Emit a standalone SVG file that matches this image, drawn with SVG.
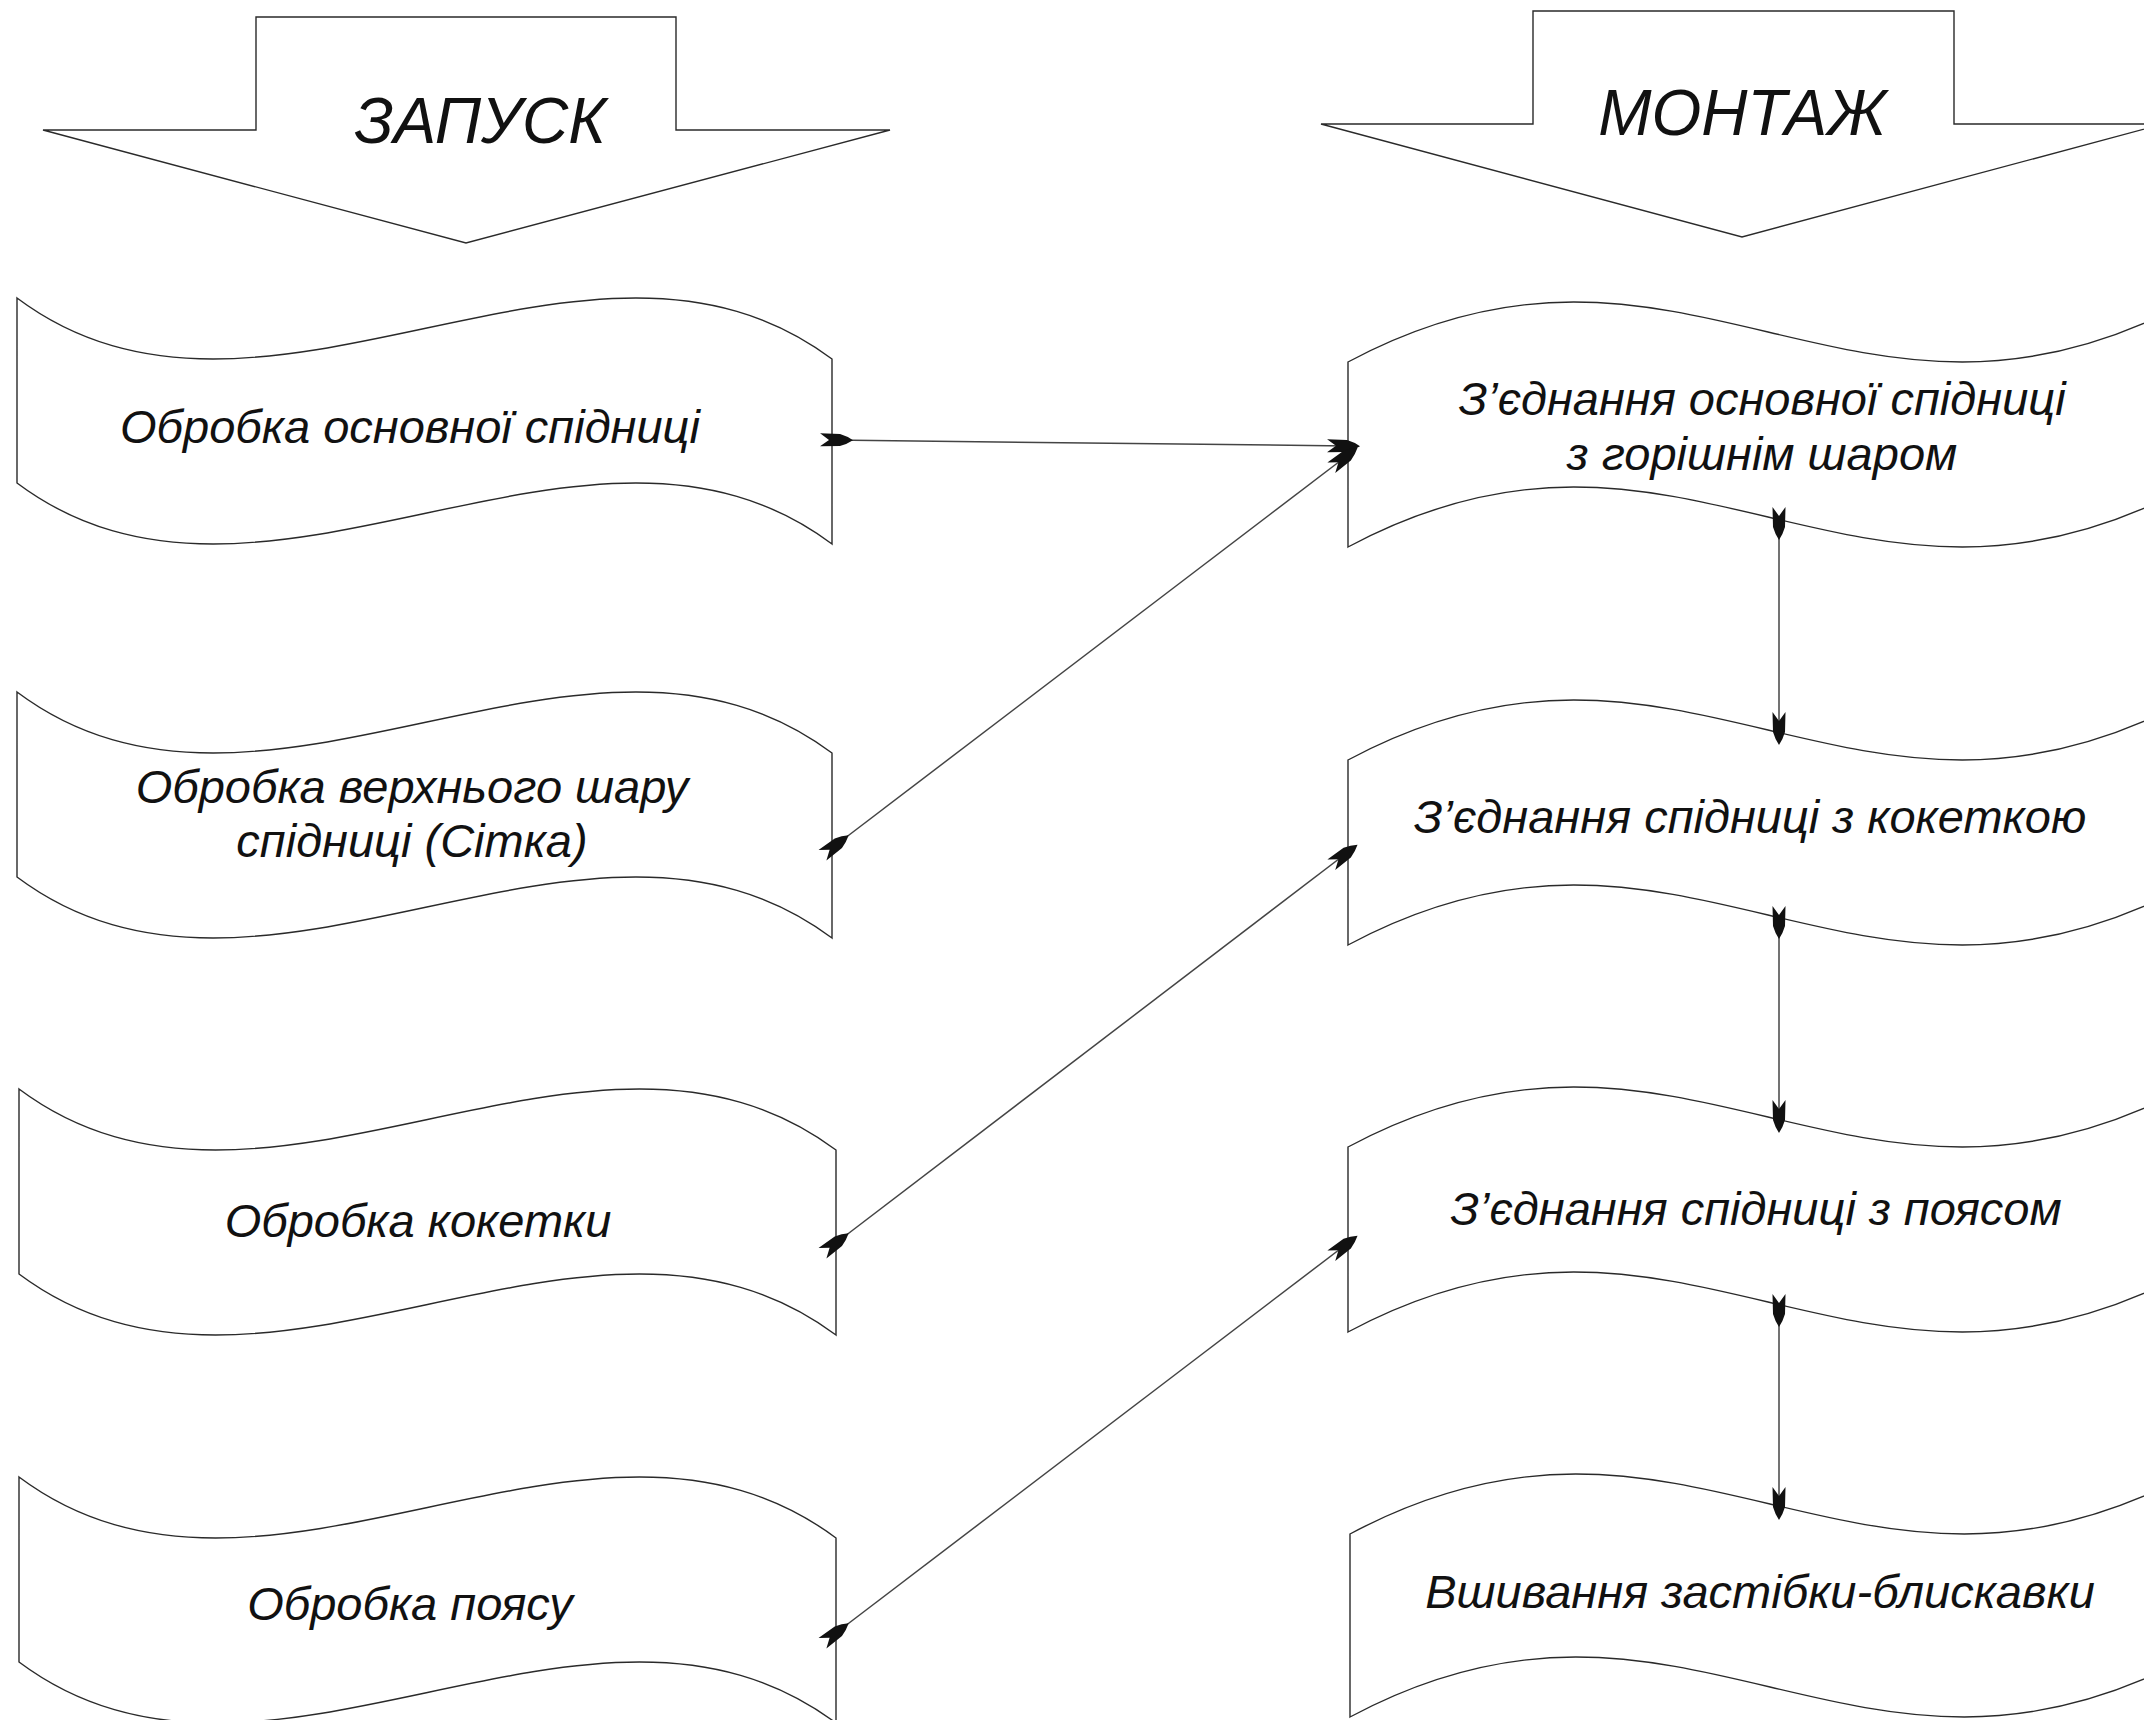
<svg xmlns="http://www.w3.org/2000/svg" width="2144" height="1720" viewBox="0 0 2144 1720">
<style>
.bg{fill:#ffffff}
.shape{fill:#ffffff;stroke:#2a2a2a;stroke-width:1.4;stroke-linejoin:miter}
.lbl{font-family:"Liberation Sans",Arial,sans-serif;font-style:italic;font-size:47px;fill:#111111;text-anchor:middle}
.hdr{font-family:"Liberation Sans",Arial,sans-serif;font-style:italic;font-size:64px;fill:#111111;text-anchor:middle}
.conn{fill:none;stroke:#444444;stroke-width:1.5}
</style>
<defs>
<marker id="mS" markerUnits="userSpaceOnUse" markerWidth="40" markerHeight="20" viewBox="0 -10 40 20" refX="12" refY="0" orient="auto">
<path d="M0,-6.5 L9,0 L0,6.5 L20,6 Q27,4 33,0 Q27,-4 20,-6 Z" fill="#111111"/>
</marker>
<marker id="mE" markerUnits="userSpaceOnUse" markerWidth="40" markerHeight="20" viewBox="0 -10 40 20" refX="21" refY="0" orient="auto">
<path d="M0,-6.5 L9,0 L0,6.5 L20,6 Q27,4 33,0 Q27,-4 20,-6 Z" fill="#111111"/>
</marker>
</defs>
<rect class="bg" x="0" y="0" width="2144" height="1720"/>

<g id="head-zapusk">
<polygon class="shape" points="256,17 676,17 676,130 890,130 466,243 43,130 256,130"/>
<text class="hdr" x="480" y="143">ЗАПУСК</text>
</g>
<g id="head-montazh">
<polygon class="shape" points="1533,11 1954,11 1954,124 2163,124 1742,237 1321,124 1533,124"/>
<text class="hdr" x="1742" y="135">МОНТАЖ</text>
</g>

<g id="node-l1">
<path class="shape" d="M17,298 C261.5,481 587.5,176 832,359 L832,544 C587.5,361 261.5,666 17,483 Z"/>
<text class="lbl" x="410" y="443">Обробка основної спідниці</text>
</g>
<g id="node-l2">
<path class="shape" d="M17,692 C261.5,875 587.5,570 832,753 L832,938 C587.5,755 261.5,1060 17,877 Z"/>
<text class="lbl" x="412" y="803">Обробка верхнього шару</text>
<text class="lbl" x="412" y="857">спідниці (Сітка)</text>
</g>
<g id="node-l3">
<path class="shape" d="M19,1089 C264,1272 591,967 836,1150 L836,1335 C591,1152 264,1457 19,1274 Z"/>
<text class="lbl" x="418" y="1237">Обробка кокетки</text>
</g>
<g id="node-l4">
<path class="shape" d="M19,1477 C264,1660 591,1355 836,1538 L836,1723 C591,1540 264,1845 19,1662 Z"/>
<text class="lbl" x="410" y="1620">Обробка поясу</text>
</g>

<g id="node-r1">
<path class="shape" d="M1348,362 C1684,182 1852,482 2188,302 L2188,487 C1852,667 1684,367 1348,547 Z"/>
<text class="lbl" x="1762" y="415">З’єднання основної спідниці</text>
<text class="lbl" x="1762" y="470">з горішнім шаром</text>
</g>
<g id="node-r2">
<path class="shape" d="M1348,760 C1684,580 1852,880 2188,700 L2188,885 C1852,1065 1684,765 1348,945 Z"/>
<text class="lbl" x="1750" y="833">З’єднання спідниці з кокеткою</text>
</g>
<g id="node-r3">
<path class="shape" d="M1348,1147 C1684,967 1852,1267 2188,1087 L2188,1272 C1852,1452 1684,1152 1348,1332 Z"/>
<text class="lbl" x="1756" y="1225">З’єднання спідниці з поясом</text>
</g>
<g id="node-r4">
<path class="shape" d="M1350,1534 C1686,1354 1854,1654 2190,1474 L2190,1657 C1854,1837 1686,1537 1350,1717 Z"/>
<text class="lbl" x="1760" y="1608">Вшивання застібки-блискавки</text>
</g>

<g id="connectors">
<line class="conn" x1="832" y1="440" x2="1348" y2="446" marker-start="url(#mS)" marker-end="url(#mE)"/>
<line class="conn" x1="832" y1="848" x2="1348" y2="455" marker-start="url(#mS)" marker-end="url(#mE)"/>
<line class="conn" x1="832" y1="1246" x2="1348" y2="852" marker-start="url(#mS)" marker-end="url(#mE)"/>
<line class="conn" x1="832" y1="1636" x2="1348" y2="1243" marker-start="url(#mS)" marker-end="url(#mE)"/>
<line class="conn" x1="1779" y1="519" x2="1779" y2="733" marker-start="url(#mS)" marker-end="url(#mE)"/>
<line class="conn" x1="1779" y1="918" x2="1779" y2="1121" marker-start="url(#mS)" marker-end="url(#mE)"/>
<line class="conn" x1="1779" y1="1306" x2="1779" y2="1508" marker-start="url(#mS)" marker-end="url(#mE)"/>
</g>
</svg>
